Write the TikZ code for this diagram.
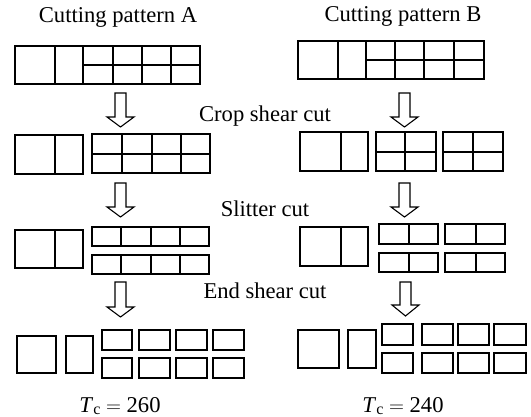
\documentclass[tikz,border=0pt]{standalone}
\usepackage{fontspec}
\setmainfont{Liberation Serif}
\begin{document}
\begin{tikzpicture}[x=1pt,y=-1pt,
  piece/.style={draw=black,line width=1.3pt},
  blockarrow/.style={draw=black,line width=1.1pt,fill=white,line join=miter},
  lbl/.style={anchor=base,inner sep=0pt,font=\fontsize{22.6}{26}\selectfont}]
\useasboundingbox (0,0) rectangle (531,417);
\newcommand\blkarrow[4]{%
  \draw[blockarrow] (#1-5.5,#2) -- (#1+5.5,#2) -- (#1+5.5,#3) -- (#1+13.5,#3)
     -- (#1,#4) -- (#1-13.5,#3) -- (#1-5.5,#3) -- cycle;}
\newcommand\tcsub{\textit{T}\raisebox{-2.5pt}{\fontsize{16}{16}\selectfont c}\ $=$\ }
% titles
\node[lbl] (ta) at (118,23) {Cutting pattern A};
\node[lbl] (tb) at (403,22) {Cutting pattern B};
\node[lbl] (s1) at (265,122) {Crop shear cut};
\node[lbl] (s2) at (265,217) {Slitter cut};
\node[lbl] (s3) at (265,299) {End shear cut};
\node[lbl] (ra) at (120,412) {\tcsub 260};
\node[lbl] (rb) at (403,412) {\tcsub 240};
% ---------- pattern A ----------
% row 1
\draw[piece] (15,46) rectangle (200,84);
\foreach \x in {55,83,113,142,171} \draw[piece] (\x,46) -- (\x,84);
\draw[piece] (83,65) -- (200,65);
% row 2
\draw[piece] (15,135) rectangle (55,174);
\draw[piece] (55,135) rectangle (83,174);
\draw[piece] (92,134) rectangle (210,173);
\foreach \x in {122,152,181} \draw[piece] (\x,134) -- (\x,173);
\draw[piece] (92,154) -- (210,154);
% row 3
\draw[piece] (15,230) rectangle (55,268);
\draw[piece] (55,230) rectangle (83,268);
\foreach \ya/\yb in {227/246,255/274}{
  \draw[piece] (92,\ya) rectangle (209,\yb);
  \foreach \x in {121,151,180} \draw[piece] (\x,\ya) -- (\x,\yb);
}
% row 4
\draw[piece] (17,336) rectangle (56,373);
\draw[piece] (66,336) rectangle (93,373);
\foreach \xa/\xb in {102/132,139/170,176/207,213/244}{
  \draw[piece] (\xa,330) rectangle (\xb,350);
  \draw[piece] (\xa,358) rectangle (\xb,378);
}
% arrows A
\blkarrow{120.5}{93}{117}{127}
\blkarrow{120.5}{183}{207}{217}
\blkarrow{120.5}{282}{307}{317}
% ---------- pattern B ----------
% row 1
\draw[piece] (298,41) rectangle (484,79);
\foreach \x in {338,366,395,424,454} \draw[piece] (\x,41) -- (\x,79);
\draw[piece] (366,60) -- (484,60);
% row 2
\draw[piece] (300,132) rectangle (341,171);
\draw[piece] (341,132) rectangle (368,171);
\foreach \xa/\xm/\xb in {376/405/436,443/473/503}{
  \draw[piece] (\xa,132) rectangle (\xb,171);
  \draw[piece] (\xm,132) -- (\xm,171);
  \draw[piece] (\xa,152) -- (\xb,152);
}
% row 3
\draw[piece] (300,227) rectangle (341,266);
\draw[piece] (341,227) rectangle (368,266);
\foreach \xa/\xm/\xb in {379/409/438,445/476/505}{
  \foreach \ya/\yb in {224/244,253/272}{
    \draw[piece] (\xa,\ya) rectangle (\xb,\yb);
    \draw[piece] (\xm,\ya) -- (\xm,\yb);
  }
}
% row 4
\draw[piece] (298,330) rectangle (339,368);
\draw[piece] (348,330) rectangle (376,368);
\foreach \xa/\xb in {382/413,422/453,458/489,494/526}{
  \draw[piece] (\xa,324) rectangle (\xb,345);
  \draw[piece] (\xa,353) rectangle (\xb,373);
}
% arrows B
\blkarrow{404.5}{93}{117}{127}
\blkarrow{404.5}{183}{207}{217}
\blkarrow{405.5}{282}{305}{316}
\end{tikzpicture}
\end{document}
